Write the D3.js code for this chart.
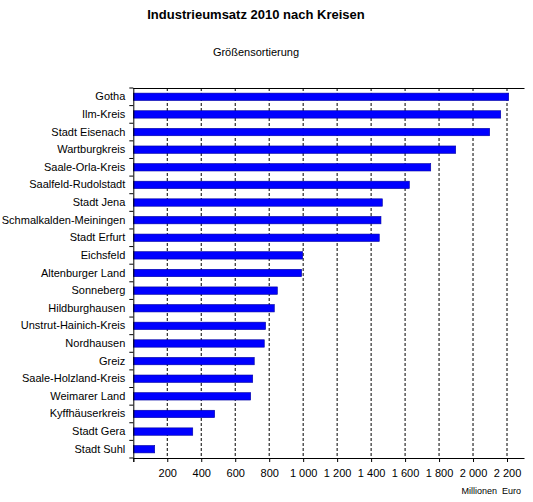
<!DOCTYPE html>
<html><head><meta charset="utf-8">
<script src="https://cdn.jsdelivr.net/npm/d3@7"></script>
<style>body{margin:0;background:#fff;} text{font-family:"Liberation Sans",Arial,sans-serif;}</style>
</head><body>
<svg id="c" width="533" height="502"></svg>
<script>
const categories = ["Gotha","Ilm-Kreis","Stadt Eisenach","Wartburgkreis","Saale-Orla-Kreis","Saalfeld-Rudolstadt","Stadt Jena","Schmalkalden-Meiningen","Stadt Erfurt","Eichsfeld","Altenburger Land","Sonneberg","Hildburghausen","Unstrut-Hainich-Kreis","Nordhausen","Greiz","Saale-Holzland-Kreis","Weimarer Land","Kyffhäuserkreis","Stadt Gera","Stadt Suhl"];
const values = [2210,2163,2098,1898,1751,1625,1466,1458,1448,997,991,848,830,779,771,712,703,691,479,350,126];
const tickValues = [200,400,600,800,1000,1200,1400,1600,1800,2000,2200];
const tickLabels = ["200","400","600","800","1 000","1 200","1 400","1 600","1 800","2 000","2 200"];

const svg = d3.select("#c");
const L = 133.3, R = 524.5, T = 88, B = 458;
const x = d3.scaleLinear().domain([0,2303]).range([L,R]);
const y = d3.scaleBand().domain(categories).range([T,B]).paddingInner(0.58).paddingOuter(0.29);

svg.append("text").attr("x",256).attr("y",19).attr("text-anchor","middle")
  .style("font-weight","bold").style("font-size","13px").text("Industrieumsatz  2010 nach Kreisen");
svg.append("text").attr("x",256).attr("y",56).attr("text-anchor","middle")
  .style("font-size","11px").text("Größensortierung");

// grid
svg.append("g").selectAll("line").data(tickValues).join("line")
  .attr("x1",d=>x(d)).attr("x2",d=>x(d)).attr("y1",T).attr("y2",B)
  .attr("stroke","#000").attr("stroke-width",1).attr("stroke-dasharray","3,2");

// bars
svg.append("g").selectAll("rect").data(values).join("rect")
  .attr("x",x(0)).attr("y",(d,i)=>y(categories[i]))
  .attr("width",d=>x(d)-x(0)).attr("height",y.bandwidth())
  .attr("fill","#0000ff").attr("stroke","#0000a0").attr("stroke-width",0.6);

// frame top
svg.append("line").attr("x1",L).attr("x2",R).attr("y1",T+0.5).attr("y2",T+0.5).attr("stroke","#000");

// x axis
const xa = svg.append("g").attr("transform",`translate(0,${B})`)
  .call(d3.axisBottom(x).tickValues([0,...tickValues]).tickSize(4).tickSizeOuter(0)
    .tickFormat((d,i)=> i===0 ? "" : tickLabels[i-1]));
xa.select(".domain").attr("d",`M${L},0.5H${R}`);
xa.selectAll("text").style("font-size","11px").attr("dy","1.1em").attr("fill","#000");

// y axis with ticks at band boundaries
const ya = svg.append("g").attr("transform",`translate(${L},0)`)
  .call(d3.axisLeft(y).tickSize(0).tickPadding(8));
ya.select(".domain").attr("d",`M0.5,${T}V${B+4}`);
ya.selectAll("text").style("font-size","11px").attr("fill","#000");
const step = (B-T)/categories.length;
ya.append("g").selectAll("line").data(d3.range(categories.length+1)).join("line")
  .attr("x1",-4).attr("x2",0).attr("y1",i=>T+i*step).attr("y2",i=>T+i*step).attr("stroke","#000");

svg.append("text").attr("x",521).attr("y",494).attr("text-anchor","end")
  .style("font-size","9px").attr("xml:space","preserve").text("Millionen  Euro");
</script>
</body></html>
